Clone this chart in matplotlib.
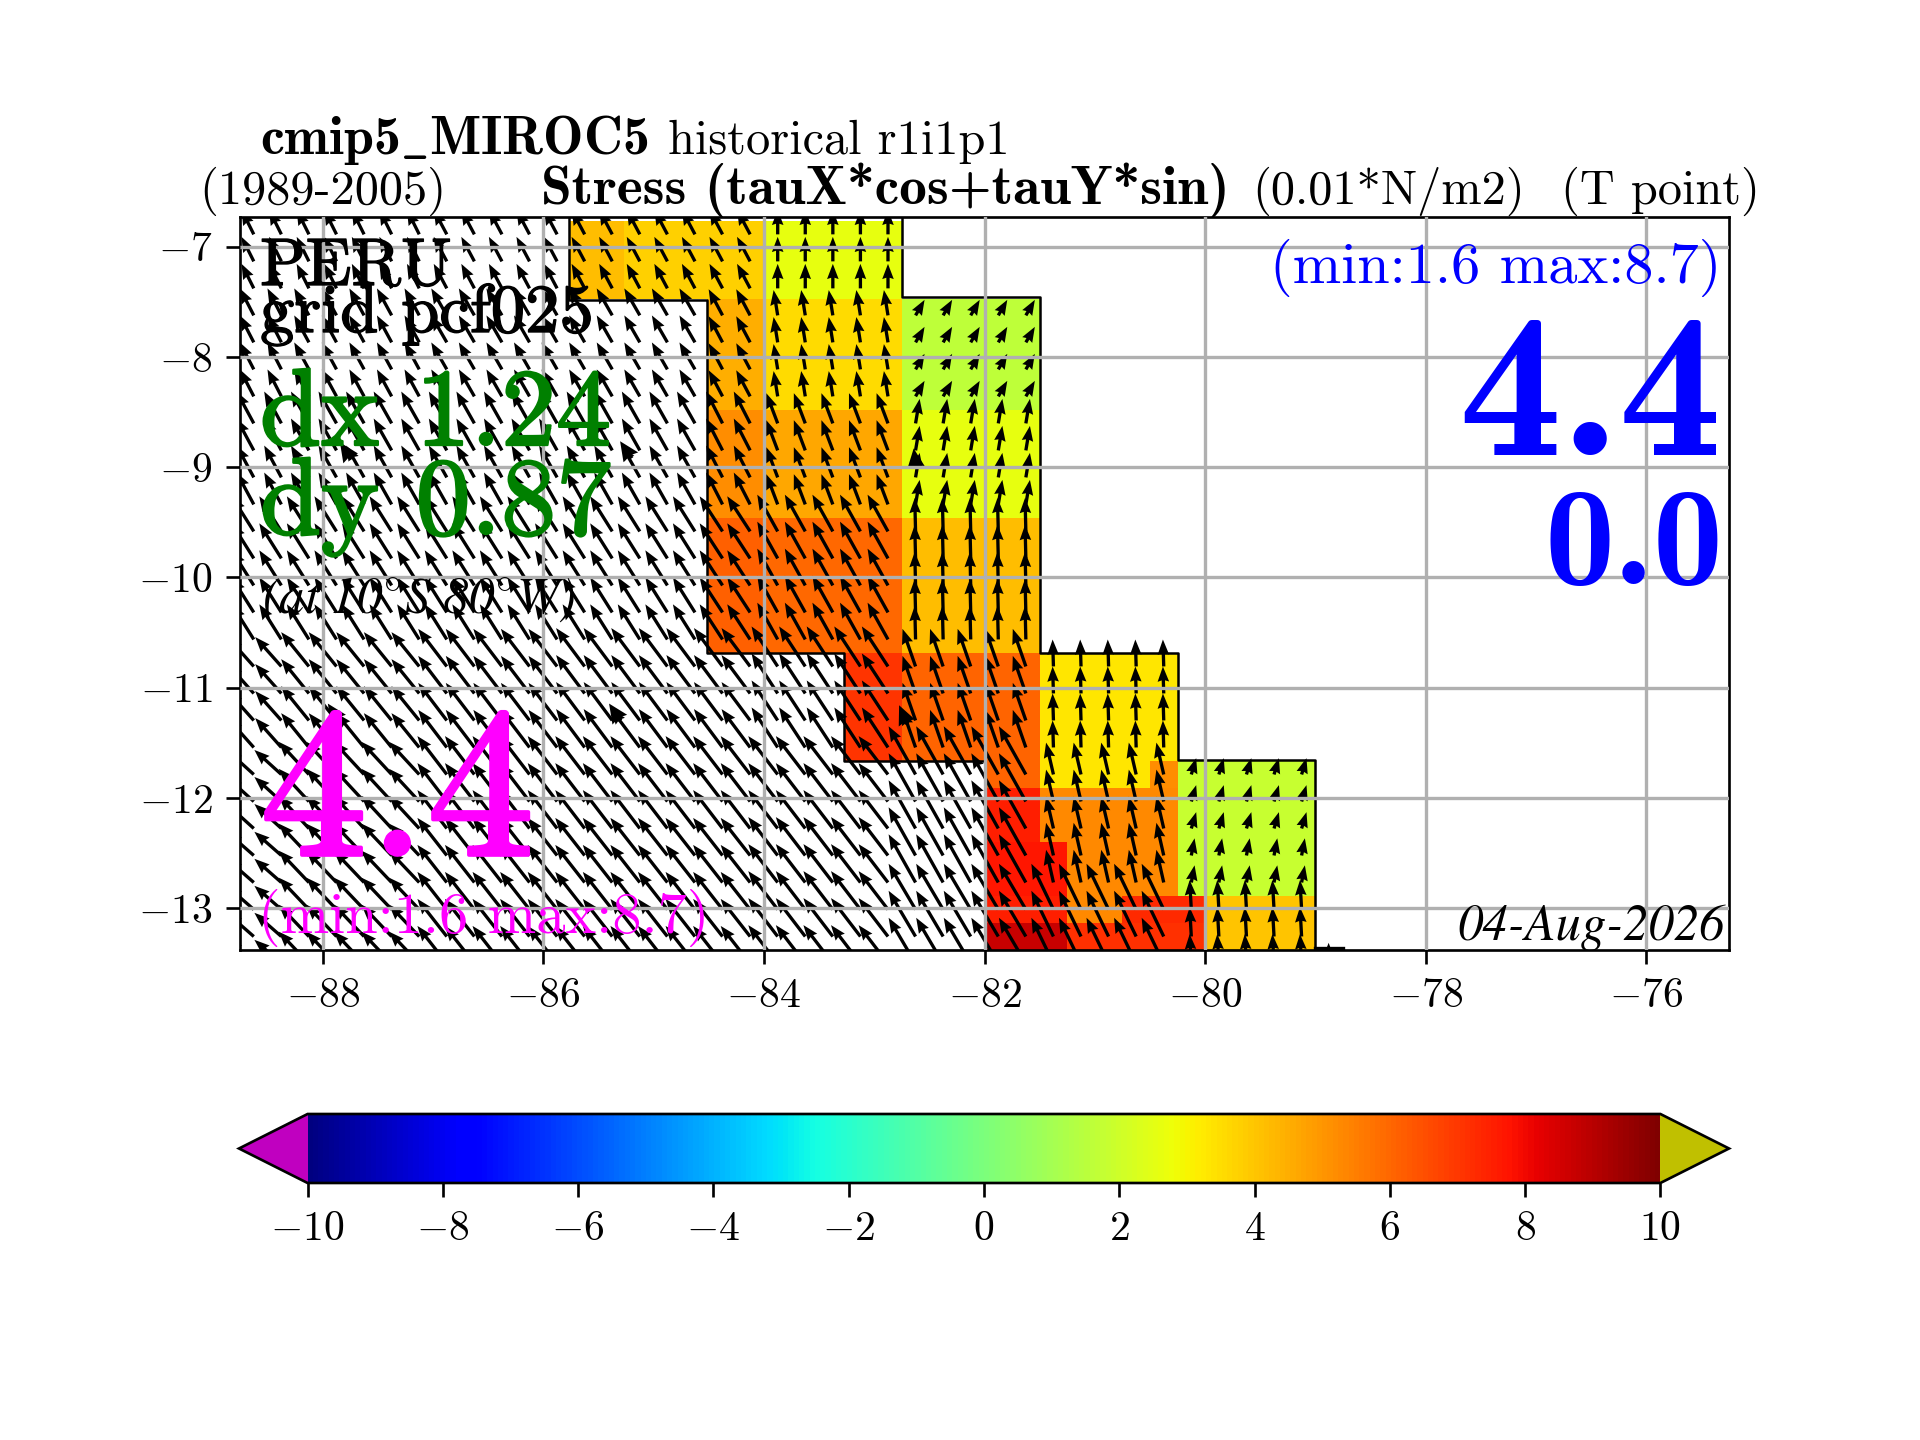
import numpy as np
import matplotlib
matplotlib.use('Agg')
import matplotlib.pyplot as plt
import matplotlib.patheffects as pe

plt.rcParams['font.family'] = 'cmr10'
plt.rcParams['mathtext.fontset'] = 'cm'
plt.rcParams['axes.formatter.use_mathtext'] = True
plt.rcParams['axes.unicode_minus'] = True

# blocks of the regridded field, edges in degrees
lat_edges = [-6.765, -7.47, -8.48, -9.46, -10.685, -11.665, -11.91, -12.4, -12.89, -13.135, -13.38]
lon_edges = [-85.77, -85.27, -84.52, -84.0, -83.27, -82.75, -82.0, -81.5, -81.25, -80.75, -80.5, -80.25, -80.0, -79.0]
nan = np.nan
# stress values, one row for each lat band and one column for each lon band
stress = [
    [4.15, 3.8, 3.8, 2.6, 2.6, nan, nan, nan, nan, nan, nan, nan, nan],
    [nan, nan, 4.5, 3.56, 3.56, 1.6, 1.6, nan, nan, nan, nan, nan, nan],
    [nan, nan, 5.2, 4.64, 4.64, 2.6, 2.6, nan, nan, nan, nan, nan, nan],
    [nan, nan, 6.17, 5.96, 5.96, 4.2, 4.2, nan, nan, nan, nan, nan, nan],
    [nan, nan, nan, nan, 7.1, 6.04, 6.04, 3.3, 3.3, 3.3, 3.3, nan, nan],
    [nan, nan, nan, nan, nan, nan, 6.04, 3.3, 3.3, 3.3, 5.2, 1.8, 1.8],
    [nan, nan, nan, nan, nan, nan, 7.5, 5.3, 5.3, 5.3, 5.3, 1.8, 1.8],
    [nan, nan, nan, nan, nan, nan, 7.7, 7.7, 5.3, 5.3, 5.3, 1.8, 1.8],
    [nan, nan, nan, nan, nan, nan, 7.5, 7.5, 5.3, 7.3, 7.3, 7.3, 4.0],
    [nan, nan, nan, nan, nan, nan, 8.7, 8.7, 7.15, 7.15, 7.15, 7.15, 4.0],
]

# arrow blocks, same units as the stress values
arrow_lat_edges = [-6.0, -7.5, -8.48, -9.46, -10.685, -11.665, -12.4, -12.89, -13.6]
arrow_lon_edges = [-89.0, -88.25, -87.0, -85.75, -84.5, -84.0, -82.75, -81.5, -80.25, -79.0]
tau_x = [
    [-1.5, -1.5, -1.6, -1.6, -1.6, 0.0, nan, nan, nan],
    [-1.7, -1.8, -1.9, -1.9, -1.7, -0.5, 1.1, nan, nan],
    [-2.1, -2.2, -2.2, -2.2, -2.0, -1.4, 0.5, nan, nan],
    [-2.7, -2.7, -2.7, -2.7, -2.8, -2.5, -0.1, nan, nan],
    [-3.2, -3.4, -3.5, -3.5, -3.5, -3.2, -1.6, -0.1, nan],
    [-3.3, -3.7, -3.6, -3.6, -3.6, -3.6, -3.3, -0.9, 0.6],
    [-3.3, -3.7, -3.6, -3.6, -3.6, -3.6, -3.3, -0.9, 0.4],
    [-3.3, -3.7, -3.6, -3.6, -3.6, -3.6, -3.3, -2.7, -0.2],
]
tau_y = [
    [3.0, 3.0, 3.0, 3.0, 3.0, 3.0, nan, nan, nan],
    [3.3, 3.3, 3.3, 3.3, 3.2, 3.1, 1.9, nan, nan],
    [3.9, 3.9, 3.9, 3.9, 3.9, 3.7, 3.0, nan, nan],
    [4.3, 4.3, 4.3, 4.3, 4.3, 4.5, 4.1, nan, nan],
    [3.6, 4.2, 4.6, 4.7, 4.7, 4.9, 4.6, 3.3, nan],
    [3.0, 4.0, 4.7, 4.7, 4.7, 4.7, 5.9, 3.9, 2.0],
    [2.9, 3.9, 4.6, 4.6, 4.6, 4.7, 5.9, 4.0, 2.1],
    [2.9, 3.9, 4.6, 4.6, 4.6, 4.7, 5.6, 5.6, 3.6],
]

# the few heavier arrows that stand out in the field
heavy_lon = [-87.74, -85.2, -82.62, -87.85, -85.3, -82.7]
heavy_lat = [-8.93, -8.92, -9.0, -11.3, -11.3, -11.33]
heavy_x = [-1.4, -1.4, -0.3, -1.4, -1.4, -1.0]
heavy_y = [2.1, 2.1, 2.3, 2.1, 2.1, 2.3]

x_ticks = [-88, -86, -84, -82, -80, -78, -76]
y_ticks = [-7, -8, -9, -10, -11, -12, -13]
cbar_ticks = [-10, -8, -6, -4, -2, 0, 2, 4, 6, 8, 10]

W, H = 1920, 1440
fig = plt.figure(figsize=(8, 6), dpi=240)
ax = fig.add_axes([240/W, 1-950/H, (1729-240)/W, (950-217)/H])

cmap = plt.get_cmap('jet').copy()
cmap.set_under('#c000c0')
cmap.set_over('#c0c000')
mesh = ax.pcolormesh(lon_edges, lat_edges, np.ma.masked_invalid(stress), cmap=cmap, vmin=-10, vmax=10)

# mask outline
outline_x = [-85.77, -85.77, -84.52, -84.52, -83.27, -83.27, -82.0, -82.0]
outline_y = [-6.7, -7.48, -7.48, -10.685, -10.685, -11.665, -11.665, -13.38]
ax.plot(outline_x, outline_y, 'k', lw=0.75)
outline_x2 = [-82.75, -82.75, -81.5, -81.5, -80.25, -80.25, -79.0, -79.0]
outline_y2 = [-6.7, -7.46, -7.46, -10.685, -10.685, -11.655, -11.655, -13.38]
ax.plot(outline_x2, outline_y2, 'k', lw=0.75)
ax.plot([-79.0, -78.75], [-13.365, -13.365], 'k', lw=1)

# arrows sit on the 0.25 degree grid, each takes the value of its block
lon_pts = np.arange(-88.625, -78.9, 0.25)
lat_pts = np.arange(-13.5025, -6.7, 0.245)
LON, LAT = np.meshgrid(lon_pts, lat_pts)
i_lat = np.searchsorted(-np.array(arrow_lat_edges), -LAT) - 1
i_lon = np.searchsorted(arrow_lon_edges, LON) - 1
U = np.array(tau_x)[i_lat, i_lon]
V = np.array(tau_y)[i_lat, i_lon]
arrow_kw = dict(angles='xy', scale_units='xy', scale=13.5, pivot='tail', units='dots')
ax.quiver(LON, LAT, U, V, width=3.3, headwidth=3.5, headlength=4.6, headaxislength=4.2, **arrow_kw)
ax.quiver(heavy_lon, heavy_lat, heavy_x, heavy_y, width=4.2, headwidth=4.2, headlength=4.6, headaxislength=4.2, **arrow_kw)
ax.quiver([-78.88], [-13.5], [0.0], [2.5], width=3.3, headwidth=3.5, headlength=4.6, headaxislength=4.2, **arrow_kw)

ax.set_xlim(-88.75, -75.25)
ax.set_ylim(-13.38, -6.73)
ax.set_xticks(x_ticks)
ax.set_yticks(y_ticks)
ax.tick_params(labelsize=12.5, length=4.2, pad=4)
ax.grid(True, color='#b0b0b0', lw=1)
ax.set_axisbelow(False)
for s in ax.spines.values():
    s.set_linewidth(0.8)


def ftext(px, py, s, **kw):
    fig.text(px/W, 1-py/H, s, **kw)


heavy_m = [pe.withStroke(linewidth=1.1, foreground='magenta')]
heavy_g = [pe.withStroke(linewidth=0.7, foreground='green')]
heavy_k = [pe.withStroke(linewidth=0.4, foreground='black')]

ftext(260, 154, r'cmip5$\_$MIROC5', fontsize=16.2, family='cmb10')
ftext(668, 154, 'historical r1i1p1', fontsize=14.5)
ftext(199, 204, '(1989-2005)', fontsize=14.5)
ftext(541, 204, 'Stress (tauX*cos+tauY*sin)', fontsize=16.6, family='cmb10')
ftext(1252, 204, '(0.01*N/m2)', fontsize=14.5)
ftext(1561, 204, '(T point)', fontsize=14.5)

ftext(260, 285, 'PERU', fontsize=20.2, path_effects=heavy_k)
ftext(260, 332, 'grid pcf025', fontsize=20.6, path_effects=heavy_k)
ftext(260, 445, 'dx 1.24', fontsize=33, color='green', path_effects=heavy_g)
ftext(260, 534, 'dy 0.87', fontsize=33, color='green', path_effects=heavy_g)
ftext(262, 613, r'(at 10$^{\circ}$S 80$^{\circ}$W)', fontsize=15.2, family='STIXGeneral', style='italic')
ftext(260, 855, '4.4', fontsize=64.5, color='magenta', path_effects=heavy_m)
ftext(258, 933, '(min:1.6 max:8.7)', fontsize=17.5, color='magenta')
ftext(1721, 283, '(min:1.6 max:8.7)', fontsize=17.5, color='blue', ha='right')
ftext(1722, 455, '4.4', fontsize=62, color='blue', ha='right', family='cmb10')
ftext(1723, 584, '0.0', fontsize=42, color='blue', ha='right', family='cmb10')
ftext(1725, 940, '04-Aug-2026', fontsize=15.2, ha='right', family='STIXGeneral', style='italic')

cax = fig.add_axes([239/W, 1-1183/H, (1729-239)/W, (1183-1114)/H])
cb = fig.colorbar(mesh, cax=cax, orientation='horizontal', extend='both', extendfrac=0.0507, ticks=cbar_ticks)
cb.outline.set_linewidth(0.8)
cax.tick_params(labelsize=12.5, length=4.2, pad=4)

fig.savefig('out.png', dpi=240)
